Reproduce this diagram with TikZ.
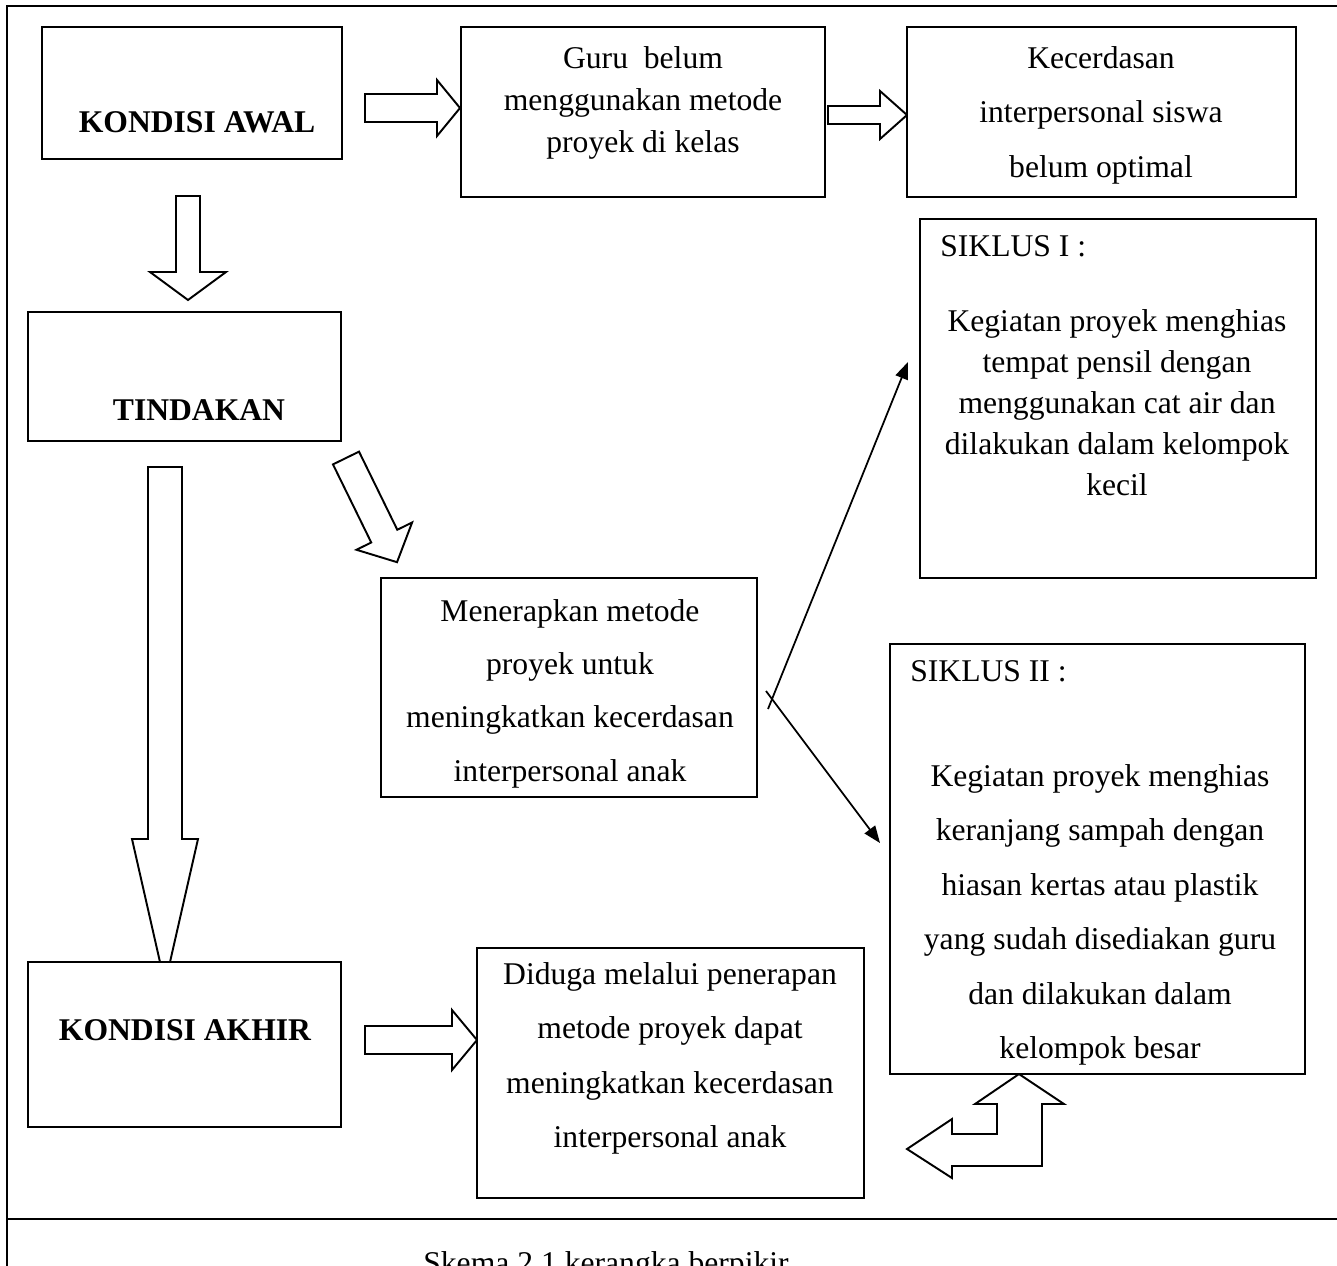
\documentclass[tikz,border=0pt]{standalone}
\usepackage{fontspec}
\setmainfont{Liberation Serif}
\usepackage{tikz}
\usetikzlibrary{
  arrows.meta,
  positioning
}
\definecolor{ink}{HTML}{000000}
\newcommand{\fatarrow}[7]{%
  \draw[fat, shift={(#1,#2)}, rotate=#3]
    (0,-#5) -- ({#4-#7},-#5) -- ({#4-#7},-#6) -- (#4,0)
    -- ({#4-#7},#6) -- ({#4-#7},#5) -- (0,#5) -- cycle;}
\tikzset{
  frame/.style={
    draw=ink,
    line width=1.1pt
  },
  box/.style={
    draw=ink,
    fill=white,
    line width=1.1pt,
    inner sep=0pt
  },
  boxtext/.style={
    align=center,
    inner sep=0pt,
    anchor=north,
    font=\fontsize{18}{31}\selectfont
  },
  headtext/.style={
    inner sep=0pt,
    anchor=north,
    font=\fontsize{18}{22}\selectfont\bfseries
  },
  cyclelabel/.style={
    inner sep=0pt,
    anchor=north west,
    font=\fontsize{18}{22}\selectfont
  },
  fat/.style={
    draw=ink,
    fill=white,
    line width=1.1pt,
    line join=miter
  },
  thinarrow/.style={
    -{Triangle[length=3.4mm, width=2.6mm]},
    draw=ink,
    line width=1pt
  }
}

\begin{document}
\begin{tikzpicture}[x=0.02cm, y=-0.02cm]
  \useasboundingbox (0,0) rectangle (1337,1265);
  % outer frame and caption rule
  \draw[frame] (7,1270) -- (7,6) -- (1345,6) -- (1345,1219) -- (7,1219);

  % block arrows
  \fatarrow{365}{108}{0}{95}{14}{28}{23}
  \fatarrow{828}{115}{0}{79}{9}{24}{27}
  \fatarrow{188}{196}{-90}{104}{12}{38}{28}
  \fatarrow{165}{467}{-90}{517}{17}{33}{145}
  \fatarrow{346}{458}{-63.9}{116}{14.5}{31}{29}
  \fatarrow{365}{1040}{0}{112}{14}{30}{25}
  \draw[fat] (1019,1074) -- (1064,1104) -- (1042,1104) -- (1042,1166)
    -- (952,1166) -- (952,1178) -- (907,1149) -- (952,1119) -- (952,1134)
    -- (997,1134) -- (997,1104) -- (975,1104) -- cycle;

  % boxes
  \node[box, minimum width=6cm, minimum height=2.64cm] (awal) at (192,93) {};
  \node[box, minimum width=7.28cm, minimum height=3.4cm] (guru) at (643,112) {};
  \node[box, minimum width=7.78cm, minimum height=3.4cm] (kecer) at (1101.5,112) {};
  \node[box, minimum width=6.26cm, minimum height=2.58cm] (tindakan) at (184.5,376.5) {};
  \node[box, minimum width=7.92cm, minimum height=7.18cm] (siklusa) at (1118,398.5) {};
  \node[box, minimum width=7.52cm, minimum height=4.38cm] (terap) at (569,687.5) {};
  \node[box, minimum width=8.3cm, minimum height=8.6cm] (siklusb) at (1097.5,859) {};
  \node[box, minimum width=6.26cm, minimum height=3.3cm] (akhir) at (184.5,1044.5) {};
  \node[box, minimum width=7.74cm, minimum height=5cm] (duga) at (670.5,1073) {};

  % texts
  \node[headtext] (awaltxt) at (197,111) {KONDISI AWAL};
  \node[headtext] (tindakantxt) at (199,399) {TINDAKAN};
  \node[headtext] (akhirtxt) at (185,1019) {KONDISI AKHIR};
  \node[boxtext, font=\fontsize{18}{24}\selectfont] (gurutxt) at (643,46)
    {Guru\ \ belum\\menggunakan metode\\proyek di kelas};
  \node[boxtext] (kecertxt) at (1101,46)
    {Kecerdasan\\interpersonal siswa\\belum optimal};
  \node[cyclelabel] (siklusalbl) at (940,235) {SIKLUS I :};
  \node[boxtext, font=\fontsize{18}{23.3}\selectfont] (siklusatxt) at (1117,309)
    {Kegiatan proyek menghias\\tempat pensil dengan\\menggunakan cat air dan\\
     dilakukan dalam kelompok\\kecil};
  \node[boxtext, font=\fontsize{18}{30.3}\selectfont] (teraptxt) at (570,599)
    {Menerapkan metode\\proyek untuk\\meningkatkan kecerdasan\\interpersonal anak};
  \node[cyclelabel] (siklusblbl) at (910,660) {SIKLUS II :};
  \node[boxtext] (siklusbtxt) at (1100,764)
    {Kegiatan proyek menghias\\keranjang sampah dengan\\hiasan kertas atau plastik\\
     yang sudah disediakan guru\\dan dilakukan dalam\\kelompok besar};
  \node[boxtext] (dugatxt) at (670,962)
    {Diduga melalui penerapan\\metode proyek dapat\\meningkatkan kecerdasan\\
     interpersonal anak};

  % thin arrows out of the fork
  \coordinate (forkup) at (768,709);
  \coordinate (forkdown) at (766,691);
  \coordinate (tipup) at (908,362);
  \coordinate (tipdown) at (880,843);
  \draw[thinarrow] (forkup) -- (tipup);
  \draw[thinarrow] (forkdown) -- (tipdown);

  \node[anchor=base, inner sep=0pt, font=\fontsize{18}{22}\selectfont]
    (caption) at (606,1273) {Skema 2.1 kerangka berpikir};
\end{tikzpicture}
\end{document}
